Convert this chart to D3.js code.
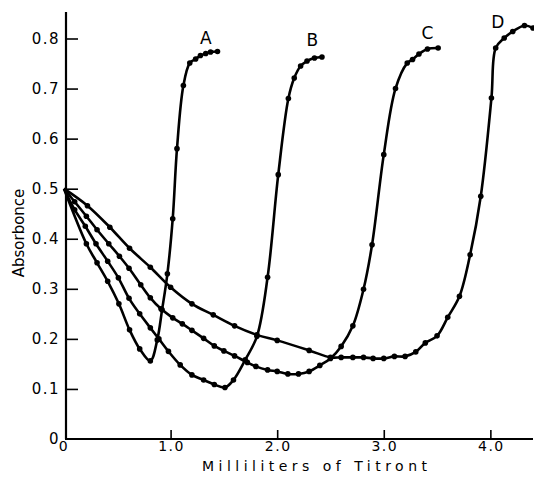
<!DOCTYPE html>
<html>
<head>
<meta charset="utf-8">
<script src="https://cdn.jsdelivr.net/npm/d3@7"></script>
<style>
  html, body { margin: 0; padding: 0; background: #fff; }
  svg { display: block; }
  text { font-family: "DejaVu Sans", sans-serif; fill: #000; }
</style>
</head>
<body>
<svg id="chart" width="534" height="479"></svg>
<script>
// ---- data ----
const xTicks = [0, 1.0, 2.0, 3.0, 4.0];
const xTickLabels = ["0", "1.0", "2.0", "3.0", "4.0"];
const yTicks = [0, 0.1, 0.2, 0.3, 0.4, 0.5, 0.6, 0.7, 0.8];
const yTickLabels = ["0", "0.1", "0.2", "0.3", "0.4", "0.5", "0.6", "0.7", "0.8"];
const curveNames = ["A", "B", "C", "D"];

const aX = [0, 0.21, 0.31, 0.41, 0.515, 0.615, 0.71, 0.81, 0.875, 0.92, 0.97, 1.02, 1.06, 1.12, 1.18, 1.235, 1.28, 1.33, 1.375, 1.44];
const aY = [0.5, 0.39, 0.352, 0.315, 0.27, 0.218, 0.18, 0.156, 0.198, 0.258, 0.33, 0.44, 0.58, 0.706, 0.751, 0.759, 0.766, 0.77, 0.773, 0.774];

const bX = [0, 0.1, 0.2, 0.3, 0.41, 0.51, 0.61, 0.71, 0.81, 0.89, 0.98, 1.09, 1.2, 1.31, 1.41, 1.51, 1.59, 1.7, 1.81, 1.91, 2.01, 2.105, 2.16, 2.22, 2.28, 2.35, 2.42];
const bY = [0.5, 0.458, 0.425, 0.39, 0.355, 0.322, 0.281, 0.25, 0.222, 0.2, 0.175, 0.148, 0.128, 0.118, 0.109, 0.103, 0.118, 0.158, 0.205, 0.323, 0.528, 0.68, 0.721, 0.745, 0.755, 0.761, 0.763];

const cX = [0, 0.1, 0.21, 0.31, 0.42, 0.52, 0.61, 0.72, 0.81, 0.91, 1.02, 1.11, 1.2, 1.31, 1.41, 1.5, 1.6, 1.72, 1.8, 1.91, 2.0, 2.1, 2.2, 2.3, 2.4, 2.5, 2.6, 2.71, 2.81, 2.89, 3.0, 3.11, 3.22, 3.27, 3.33, 3.41, 3.51];
const cY = [0.5, 0.474, 0.445, 0.418, 0.39, 0.365, 0.341, 0.308, 0.282, 0.26, 0.242, 0.23, 0.217, 0.201, 0.186, 0.176, 0.166, 0.153, 0.145, 0.138, 0.135, 0.13, 0.13, 0.135, 0.147, 0.161, 0.185, 0.226, 0.299, 0.388, 0.568, 0.7, 0.751, 0.758, 0.769, 0.779, 0.781];

const dX = [0, 0.22, 0.43, 0.615, 0.81, 1.0, 1.2, 1.4, 1.6, 1.81, 2.0, 2.3, 2.5, 2.6, 2.71, 2.81, 2.9, 3.0, 3.1, 3.2, 3.3, 3.39, 3.5, 3.6, 3.71, 3.81, 3.91, 4.01, 4.05, 4.13, 4.21, 4.32, 4.4];
const dY = [0.5, 0.466, 0.423, 0.381, 0.343, 0.303, 0.27, 0.248, 0.226, 0.208, 0.197, 0.177, 0.163, 0.163, 0.163, 0.163, 0.161, 0.161, 0.165, 0.165, 0.174, 0.192, 0.206, 0.243, 0.285, 0.368, 0.485, 0.681, 0.781, 0.801, 0.814, 0.826, 0.821];

// label anchor values (data coords)
const labelX = [1.33, 2.33, 3.41, 4.07];
const labelY = [0.79, 0.785, 0.8, 0.82];

// ---- layout ----
const svg = d3.select("#chart");
svg.append("rect").attr("width", 534).attr("height", 479).attr("fill", "#fff");

const x = d3.scaleLinear().domain([0, 4.4]).range([64, 533]);
const y = d3.scaleLinear().domain([0, 0.8]).range([439, 38.5]);

// axes
const yAxis = d3.axisRight(y).tickValues(yTicks.slice(1)).tickSize(12).tickFormat("");
const gy = svg.append("g").attr("transform", `translate(${x(0) + 2},0)`).call(yAxis);
gy.select(".domain").remove();
gy.selectAll(".tick line").attr("stroke", "#000").attr("stroke-width", 1.6);

const xAxis = d3.axisTop(x).tickValues(xTicks.slice(1)).tickSize(9).tickFormat("");
const gx = svg.append("g").attr("transform", `translate(0,${y(0)})`).call(xAxis);
gx.select(".domain").remove();
gx.selectAll(".tick line").attr("stroke", "#000").attr("stroke-width", 1.6);

// axis lines
svg.append("line").attr("x1", x(0) + 2).attr("x2", x(0) + 2).attr("y1", 12).attr("y2", y(0))
  .attr("stroke", "#000").attr("stroke-width", 2.2);
svg.append("line").attr("x1", x(0) + 1).attr("x2", 533).attr("y1", y(0)).attr("y2", y(0))
  .attr("stroke", "#000").attr("stroke-width", 2.2);

// tick labels
svg.append("g").selectAll("text").data(yTicks).join("text")
  .attr("x", 60).attr("y", d => y(d) + 5)
  .attr("text-anchor", "end")
  .style("font-size", "15px").style("letter-spacing", "1.5px")
  .text((d, i) => yTickLabels[i]);

svg.append("g").selectAll("text").data(xTicks).join("text")
  .attr("x", d => x(d) + (d === 0 ? 0 : 1)).attr("y", 451)
  .attr("text-anchor", "middle")
  .style("font-size", "14px").style("letter-spacing", "1.5px")
  .text((d, i) => xTickLabels[i]);

// axis titles
svg.append("text").attr("x", 202).attr("y", 471)
  .style("font-size", "14px")
  .attr("textLength", 225).attr("lengthAdjust", "spacing")
  .text("Milliliters of Titront");

svg.append("text")
  .attr("transform", "translate(24,233) rotate(-90)")
  .attr("text-anchor", "middle")
  .style("font-size", "15px")
  .text("Absorbonce");

// curves
const series = [[aX, aY], [bX, bY], [cX, cY], [dX, dY]].map(([xs, ys]) => xs.map((v, i) => [v, ys[i]]));
const line = d3.line().x(d => x(d[0])).y(d => y(d[1])).curve(d3.curveCatmullRom.alpha(0.5));

const gCurves = svg.append("g");
series.forEach(pts => {
  gCurves.append("path").attr("d", line(pts)).attr("fill", "none")
    .attr("stroke", "#000").attr("stroke-width", 2.6).attr("stroke-linejoin", "round");
  gCurves.append("g").selectAll("circle").data(pts.slice(1)).join("circle")
    .attr("cx", d => x(d[0])).attr("cy", d => y(d[1])).attr("r", 2.8).attr("fill", "#000");
});

// curve letters
svg.append("g").selectAll("text").data(curveNames).join("text")
  .attr("x", (d, i) => x(labelX[i])).attr("y", (d, i) => y(labelY[i]))
  .attr("text-anchor", "middle")
  .style("font-size", "17px")
  .text(d => d);
</script>
</body>
</html>
